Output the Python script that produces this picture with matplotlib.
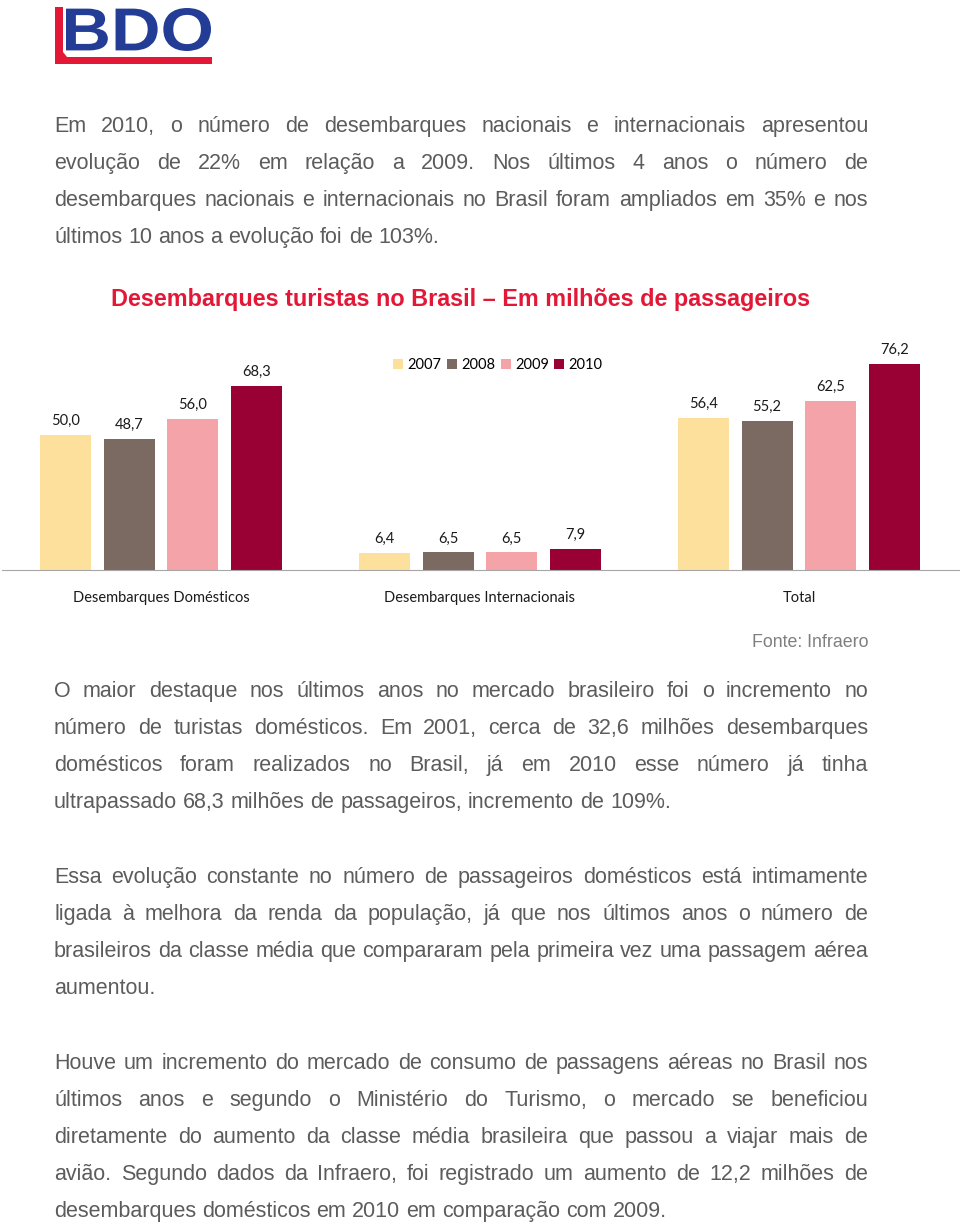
import matplotlib
matplotlib.use("Agg")
import matplotlib.pyplot as plt
from matplotlib.patches import Polygon, Patch, PathPatch
from matplotlib.textpath import TextPath
from matplotlib.font_manager import FontProperties
from matplotlib.transforms import Affine2D
import numpy as np

W, H = 960, 1223

# --- chart data ---
categories = ["Desembarques Domésticos", "Desembarques Internacionais", "Total"]
years = ["2007", "2008", "2009", "2010"]
v2007 = [50.0, 6.4, 56.4]
v2008 = [48.7, 6.5, 55.2]
v2009 = [56.0, 6.5, 62.5]
v2010 = [68.3, 7.9, 76.2]
series = [v2007, v2008, v2009, v2010]
colors = ["#FDE09B", "#7B6A61", "#F4A3A8", "#990033"]

title = "Desembarques turistas no Brasil \u2013 Em milhões de passageiros"
source = "Fonte: Infraero"

# body text: (lines, y of first line)
para1 = [
    "Em 2010, o número de desembarques nacionais e internacionais apresentou",
    "evolução de 22% em relação a 2009. Nos últimos 4 anos  o número de",
    "desembarques nacionais e internacionais no Brasil foram ampliados em 35% e nos",
    "últimos 10 anos a evolução foi de 103%.",
]
para2 = [
    "O maior destaque nos últimos anos no mercado brasileiro foi o incremento no",
    "número de turistas domésticos. Em 2001, cerca de 32,6 milhões desembarques",
    "domésticos foram realizados no Brasil, já em 2010 esse número já tinha",
    "ultrapassado 68,3 milhões de passageiros, incremento de 109%.",
]
para3 = [
    "Essa evolução constante no número de passageiros domésticos está intimamente",
    "ligada à melhora da renda da população, já que nos últimos anos o número de",
    "brasileiros da classe média que compararam pela primeira vez uma passagem aérea",
    "aumentou.",
]
para4 = [
    "Houve um incremento do mercado de consumo de passagens aéreas no Brasil nos",
    "últimos anos e segundo o Ministério do Turismo, o mercado se beneficiou",
    "diretamente do aumento da classe média brasileira que passou a viajar mais de",
    "avião. Segundo dados da Infraero, foi registrado um aumento de 12,2 milhões de",
    "desembarques domésticos em 2010 em comparação com 2009.",
]
paragraphs = [(para1, 125), (para2, 690), (para3, 876), (para4, 1062)]

BODY_FONT = "Liberation Sans"
BODY_COLOR = "#5c5c5c"
BODY_SIZE = 15.5
LEFT, RIGHT = 54, 868
LINE_STEP = 37

fig = plt.figure(figsize=(W / 100, H / 100), dpi=100)
renderer = fig.canvas.get_renderer()


def fx(px):
    return px / W


def fy(py):
    return 1 - py / H


def draw_line(text, y, justify):
    """Places words one by one so the line can be justified like the page."""
    words = text.split()
    objs = [fig.text(0, 0, w, fontsize=BODY_SIZE, family=BODY_FONT,
                     color=BODY_COLOR, va="baseline", ha="left") for w in words]
    widths = [o.get_window_extent(renderer).width for o in objs]
    if justify and len(words) > 1:
        gap = (RIGHT - LEFT - sum(widths)) / (len(words) - 1)
    else:
        gap = BODY_SIZE * 100 / 72 * 0.278
    x = LEFT
    for o, w in zip(objs, widths):
        o.set_position((fx(x), fy(y + 7)))
        x += w + gap


for lines, y0 in paragraphs:
    for i, line in enumerate(lines):
        draw_line(line, y0 + i * LINE_STEP, justify=(i < len(lines) - 1))

# --- logo ---
blue = "#233D96"
red = "#E31837"
# stretch the "BDO" glyphs into the logo box (x 66..211, y 8..51 px)
tp = TextPath((0, 0), "BDO", size=10,
              prop=FontProperties(family="Liberation Sans", weight="bold"))
ext = tp.get_extents()
x0, x1, ytop, ybot = 66, 211, 8, 51
tr = (Affine2D()
      .translate(-ext.x0, -ext.y0)
      .scale((x1 - x0) / ext.width / W, (ybot - ytop) / ext.height / H)
      .translate(fx(x0), fy(ybot)))
fig.patches.append(PathPatch(tr.transform_path(tp), facecolor=blue,
                             edgecolor="none", transform=fig.transFigure))
logo_red = Polygon([(fx(55), fy(7)), (fx(63), fy(7)), (fx(63), fy(52)),
                    (fx(67), fy(57)), (fx(212), fy(57)), (fx(212), fy(64)),
                    (fx(55), fy(64))], closed=True, facecolor=red,
                   edgecolor="none", transform=fig.transFigure)
fig.patches.append(logo_red)

# --- chart title ---
fig.text(fx(461), fy(306), title, fontsize=16.8, family="Liberation Sans",
         fontweight="bold", color=red, ha="center", va="baseline")

# --- bar chart ---
ymax = 80
ax_left, ax_right, base = 1.5, 958.5, 570
ax_h = ymax * 2.7
ax = fig.add_axes([fx(ax_left), fy(base), (ax_right - ax_left) / W, ax_h / H])

x = np.arange(len(categories))
width = 0.16
step = 0.2
for i, (vals, col, yr) in enumerate(zip(series, colors, years)):
    bars = ax.bar(x + (i - 1.5) * step, vals, width, color=col, label=yr)
    for b, v in zip(bars, vals):
        ax.annotate(f"{v:.1f}".replace(".", ","),
                    (b.get_x() + b.get_width() / 2, v),
                    xytext=(0, 5), textcoords="offset points",
                    ha="center", va="bottom", fontsize=10.5, family="Lato",
                    color="#1a1a1a", annotation_clip=False)

ax.set_xlim(-0.5, 2.5)
ax.set_ylim(0, ymax)
ax.set_yticks([])
ax.set_xticks(x)
ax.set_xticklabels(categories, fontsize=10.5, family="Lato", color="#1a1a1a")
ax.tick_params(axis="x", length=0, pad=15)
for s in ("top", "right", "left"):
    ax.spines[s].set_visible(False)
ax.spines["bottom"].set_color("#A6A6A6")
ax.patch.set_visible(False)

handles = [Patch(facecolor=c, edgecolor="none") for c in colors]
fig.legend(handles, years, loc="center", bbox_to_anchor=(fx(498), fy(365)),
           ncol=4, frameon=False, handlelength=0.7, handleheight=0.7,
           handletextpad=0.3, columnspacing=0.35,
           prop={"family": "Lato", "size": 10.5})

# --- source ---
fig.text(fx(868), fy(647), source, fontsize=12.8, family="Liberation Sans",
         color="#7f7f7f", ha="right", va="baseline")

fig.savefig("out.png", dpi=100, facecolor="white")
